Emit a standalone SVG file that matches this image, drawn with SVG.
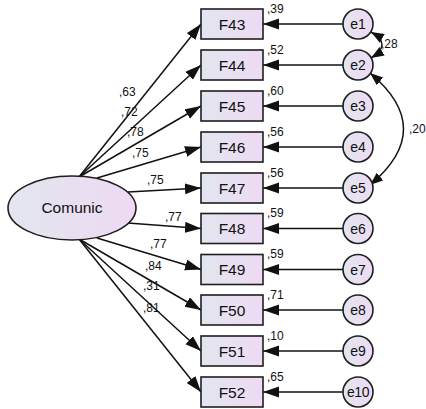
<svg xmlns="http://www.w3.org/2000/svg" width="426" height="409" viewBox="0 0 426 409">
  <style>
    .box { fill: url(#fillGrad); stroke: #1e1e1e; stroke-width: 1.6; }
    .lat { fill: url(#fillGrad); stroke: #1e1e1e; stroke-width: 1.6; }
    .err { fill: url(#fillGrad); stroke: #1e1e1e; stroke-width: 1.6; }
    .lbl { font-family: "Liberation Sans", Arial, sans-serif; font-size: 15.5px; fill: #111; text-anchor: middle; }
    .elbl { font-family: "Liberation Sans", Arial, sans-serif; font-size: 14px; fill: #111; text-anchor: middle; }
    .num { font-family: "Liberation Sans", Arial, sans-serif; font-size: 12px; fill: #111; }
    .path { stroke: #111; stroke-width: 1.5; fill: none; marker-end: url(#arrow); }
    .cov { stroke: #111; stroke-width: 1.5; fill: none; marker-start: url(#arrowSm); marker-end: url(#arrowSm); }
  </style>
  <defs>
    <linearGradient id="fillGrad" x1="0" y1="0" x2="1" y2="0">
      <stop offset="0" stop-color="#e2e6ef"/>
      <stop offset="1" stop-color="#eedaf3"/>
    </linearGradient>
    <marker id="arrow" markerUnits="userSpaceOnUse" markerWidth="17" markerHeight="12" refX="16" refY="5.5" orient="auto">
      <path d="M0,0 L16,5.5 L0,11 z" fill="#111"/>
    </marker>
    <marker id="arrowSm" markerUnits="userSpaceOnUse" markerWidth="14" markerHeight="11" refX="13" refY="5" orient="auto-start-reverse">
      <path d="M0,0 L13,5 L0,10 z" fill="#111"/>
    </marker>
  </defs>

  <!-- connectors -->
  <g id="connectors">
    <!-- loadings from Comunic -->
    <line class="path" x1="79" y1="177" x2="201" y2="24"/>
    <line class="path" x1="79" y1="177" x2="201" y2="65"/>
    <line class="path" x1="79" y1="177" x2="201" y2="106"/>
    <line class="path" x1="97" y1="178" x2="201" y2="147"/>
    <line class="path" x1="128" y1="192" x2="201" y2="188"/>
    <line class="path" x1="128" y1="223" x2="201" y2="228.5"/>
    <line class="path" x1="97" y1="238" x2="201" y2="269.5"/>
    <line class="path" x1="79" y1="239" x2="201" y2="310"/>
    <line class="path" x1="79" y1="239" x2="201" y2="351"/>
    <line class="path" x1="79" y1="239" x2="201" y2="392"/>
    <!-- error terms -->
    <line class="path" x1="343" y1="24" x2="263" y2="24"/>
    <line class="path" x1="343" y1="65" x2="263" y2="65"/>
    <line class="path" x1="343" y1="106" x2="263" y2="106"/>
    <line class="path" x1="343" y1="147" x2="263" y2="147"/>
    <line class="path" x1="343" y1="188" x2="263" y2="188"/>
    <line class="path" x1="343" y1="228.5" x2="263" y2="228.5"/>
    <line class="path" x1="343" y1="269.5" x2="263" y2="269.5"/>
    <line class="path" x1="343" y1="310" x2="263" y2="310"/>
    <line class="path" x1="343" y1="351" x2="263" y2="351"/>
    <line class="path" x1="343" y1="392" x2="263" y2="392"/>
    <!-- covariances -->
    <path class="cov" d="M371,32 Q393,44.5 371,58"/>
    <path class="cov" d="M370,73 Q437,129 370,185"/>
  </g>

  <!-- loading / variance values -->
  <g id="values">
    <text class="num" x="119" y="96">,63</text>
    <text class="num" x="121" y="116">,72</text>
    <text class="num" x="127" y="136">,78</text>
    <text class="num" x="132" y="157">,75</text>
    <text class="num" x="147" y="184">,75</text>
    <text class="num" x="165" y="221">,77</text>
    <text class="num" x="150" y="248">,77</text>
    <text class="num" x="145" y="270">,84</text>
    <text class="num" x="143" y="290">,31</text>
    <text class="num" x="143" y="312">,81</text>
    <text class="num" x="267" y="13">,39</text>
    <text class="num" x="267" y="54">,52</text>
    <text class="num" x="267" y="95">,60</text>
    <text class="num" x="267" y="136">,56</text>
    <text class="num" x="267" y="177">,56</text>
    <text class="num" x="267" y="217">,59</text>
    <text class="num" x="267" y="258">,59</text>
    <text class="num" x="267" y="299">,71</text>
    <text class="num" x="267" y="340">,10</text>
    <text class="num" x="267" y="381">,65</text>
    <text class="num" x="381" y="48">,28</text>
    <text class="num" x="409" y="133">,20</text>
  </g>

  <g id="Comunic">
    <ellipse class="lat" cx="72" cy="208" rx="64" ry="32"/>
    <text class="lbl" x="72" y="213">Comunic</text>
  </g>

  <g id="F43"><rect class="box" x="201" y="9" width="62" height="30"/><text class="lbl" x="232" y="29.5">F43</text></g>
  <g id="F44"><rect class="box" x="201" y="50" width="62" height="30"/><text class="lbl" x="232" y="70.5">F44</text></g>
  <g id="F45"><rect class="box" x="201" y="91" width="62" height="30"/><text class="lbl" x="232" y="111.5">F45</text></g>
  <g id="F46"><rect class="box" x="201" y="132" width="62" height="30"/><text class="lbl" x="232" y="152.5">F46</text></g>
  <g id="F47"><rect class="box" x="201" y="173" width="62" height="30"/><text class="lbl" x="232" y="193.5">F47</text></g>
  <g id="F48"><rect class="box" x="201" y="213.5" width="62" height="30"/><text class="lbl" x="232" y="234">F48</text></g>
  <g id="F49"><rect class="box" x="201" y="254.5" width="62" height="30"/><text class="lbl" x="232" y="275">F49</text></g>
  <g id="F50"><rect class="box" x="201" y="295" width="62" height="30"/><text class="lbl" x="232" y="315.5">F50</text></g>
  <g id="F51"><rect class="box" x="201" y="336" width="62" height="30"/><text class="lbl" x="232" y="356.5">F51</text></g>
  <g id="F52"><rect class="box" x="201" y="377" width="62" height="30"/><text class="lbl" x="232" y="397.5">F52</text></g>

  <g id="e1"><circle class="err" cx="358" cy="24" r="15"/><text class="elbl" x="358" y="29">e1</text></g>
  <g id="e2"><circle class="err" cx="358" cy="65" r="15"/><text class="elbl" x="358" y="70">e2</text></g>
  <g id="e3"><circle class="err" cx="358" cy="106" r="15"/><text class="elbl" x="358" y="111">e3</text></g>
  <g id="e4"><circle class="err" cx="358" cy="147" r="15"/><text class="elbl" x="358" y="152">e4</text></g>
  <g id="e5"><circle class="err" cx="358" cy="188" r="15"/><text class="elbl" x="358" y="193">e5</text></g>
  <g id="e6"><circle class="err" cx="358" cy="228.5" r="15"/><text class="elbl" x="358" y="233.5">e6</text></g>
  <g id="e7"><circle class="err" cx="358" cy="269.5" r="15"/><text class="elbl" x="358" y="274.5">e7</text></g>
  <g id="e8"><circle class="err" cx="358" cy="310" r="15"/><text class="elbl" x="358" y="315">e8</text></g>
  <g id="e9"><circle class="err" cx="358" cy="351" r="15"/><text class="elbl" x="358" y="356">e9</text></g>
  <g id="e10"><circle class="err" cx="358" cy="392" r="15"/><text class="elbl" x="358" y="397" style="letter-spacing:-0.5px">e10</text></g>
</svg>
